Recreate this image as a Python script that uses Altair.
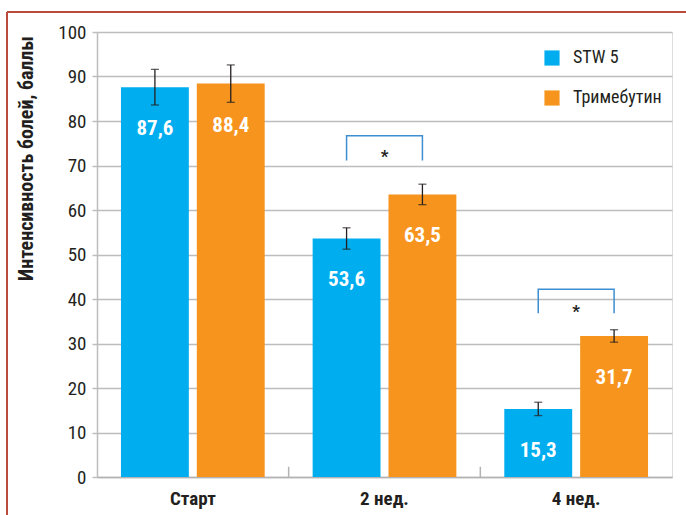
import altair as alt
import pandas as pd

categories = ["Старт", "2 нед.", "4 нед."]
series = ["STW 5", "Тримебутин"]
stw5 = [87.6, 53.6, 15.3]
trimebutin = [88.4, 63.5, 31.7]
stw5_err = [4.0, 2.4, 1.5]
trimebutin_err = [4.2, 2.3, 1.4]
colors = ["#00adef", "#f7941d"]

# significance brackets: category, bracket top, leg bottom, star y
sig_cats = ["2 нед.", "4 нед."]
sig_top = [76.7, 42.2]
sig_bottom = [71.1, 36.8]
sig_star = [72.9, 37.9]

FONT = "Roboto Condensed, Liberation Sans Narrow, DejaVu Sans Condensed, Roboto, sans-serif"

rows = []
for i, c in enumerate(categories):
    for s, vals, errs in [(series[0], stw5, stw5_err), (series[1], trimebutin, trimebutin_err)]:
        v = vals[i]
        e = errs[i]
        rows.append({"cat": c, "ser": s, "val": v, "lo": v - e, "hi": v + e,
                     "lab": f"{v:.1f}".replace(".", ",")})
df = pd.DataFrame(rows)

brow = []
for c, t, b in zip(sig_cats, sig_top, sig_bottom):
    brow.append({"cat": c, "ser": series[0], "y": b, "o": 0, "g": c})
    brow.append({"cat": c, "ser": series[0], "y": t, "o": 1, "g": c})
    brow.append({"cat": c, "ser": series[1], "y": t, "o": 2, "g": c})
    brow.append({"cat": c, "ser": series[1], "y": b, "o": 3, "g": c})
bdf = pd.DataFrame(brow)
sdf = pd.DataFrame({"cat": sig_cats, "y": sig_star})
tdf = pd.DataFrame({"cat": categories[1:], "y0": [0, 0], "y1": [2.3, 2.3]})

xscale = alt.Scale(domain=categories, paddingInner=0, paddingOuter=0)
xoff = alt.Scale(domain=series, paddingInner=0.105, paddingOuter=0.316)
yscale = alt.Scale(domain=[0, 100])

X = alt.X("cat:N", scale=xscale, sort=categories,
          axis=alt.Axis(title=None, labelAngle=0, labelAlign="center", labelFont=FONT,
                        labelFontSize=19, labelFontWeight="bold", labelColor="#231f20",
                        ticks=False, domainColor="#b3b3b3", domainWidth=1.5,
                        labelPadding=12, labelBaseline="top"))
XO = alt.XOffset("ser:N", scale=xoff, sort=series)
Y = alt.Y("val:Q", scale=yscale,
          axis=alt.Axis(title="Интенсивность болей, баллы", values=list(range(0, 101, 10)),
                        labelFont=FONT, labelFontSize=19, labelColor="#231f20",
                        gridColor="#bdbdbd", gridWidth=1.5, tickColor="#bdbdbd",
                        tickSize=5, tickWidth=1.5, domainColor="#bdbdbd", domainWidth=1.5,
                        labelPadding=6, titleFont=FONT, titleFontSize=20,
                        titleFontWeight="bold", titleColor="#231f20",
                        titleX=-71, titleY=126, titleAngle=-90, titleBaseline="middle",
                        titleAlign="center"))

base = alt.Chart(df)
bars = base.mark_bar().encode(
    x=X, xOffset=XO, y=Y,
    color=alt.Color("ser:N", scale=alt.Scale(domain=series, range=colors), sort=series,
                    legend=alt.Legend(title=None, orient="none", legendX=446, legendY=17,
                                      symbolType="square", symbolSize=230,
                                      symbolStrokeWidth=0, labelFont=FONT,
                                      labelFontSize=18, labelColor="#231f20",
                                      rowPadding=22, labelOffset=12)),
)
labels = base.mark_text(color="white", font=FONT, fontSize=21, fontWeight="bold",
                        baseline="middle", dy=42).encode(
    x="cat:N", xOffset=XO, y="val:Q", text="lab:N")
err = base.mark_rule(color="#231f20", strokeWidth=1.3).encode(
    x="cat:N", xOffset=XO, y="lo:Q", y2="hi:Q")
cap_lo = base.mark_tick(color="#231f20", size=8, thickness=1.3, orient="horizontal").encode(
    x="cat:N", xOffset=XO, y="lo:Q")
cap_hi = base.mark_tick(color="#231f20", size=8, thickness=1.3, orient="horizontal").encode(
    x="cat:N", xOffset=XO, y="hi:Q")

brackets = alt.Chart(bdf).mark_line(color="#3d8fd1", strokeWidth=1.5).encode(
    x="cat:N", xOffset=XO, y="y:Q", detail="g:N", order="o:Q")
stars = alt.Chart(sdf).mark_text(text="*", font=FONT, fontSize=17, fontWeight="bold",
                                 color="#231f20", baseline="middle", dy=4).encode(
    x="cat:N", y="y:Q")
ticks = alt.Chart(tdf).mark_rule(color="#b3b3b3", strokeWidth=1.5).encode(
    x=alt.X("cat:N", bandPosition=0), y="y0:Q", y2="y1:Q")

frame_top = alt.Chart(df).mark_rule(color="#b94a3c", strokeWidth=2).encode(
    x=alt.value(-90), x2=alt.value(600), y=alt.value(-20))
frame_left = alt.Chart(df).mark_rule(color="#b94a3c", strokeWidth=2).encode(
    x=alt.value(-90), y=alt.value(-20), y2=alt.value(500))

chart = alt.layer(ticks, bars, err, cap_lo, cap_hi, labels, brackets, stars,
                  frame_top, frame_left).properties(
    width=575, height=445, autosize="none",
    padding={"left": 97, "top": 32, "right": 14, "bottom": 38},
).configure_view(stroke=None).configure(background="white")

chart.save("out.html", embed_options={"renderer": "svg", "actions": False})
